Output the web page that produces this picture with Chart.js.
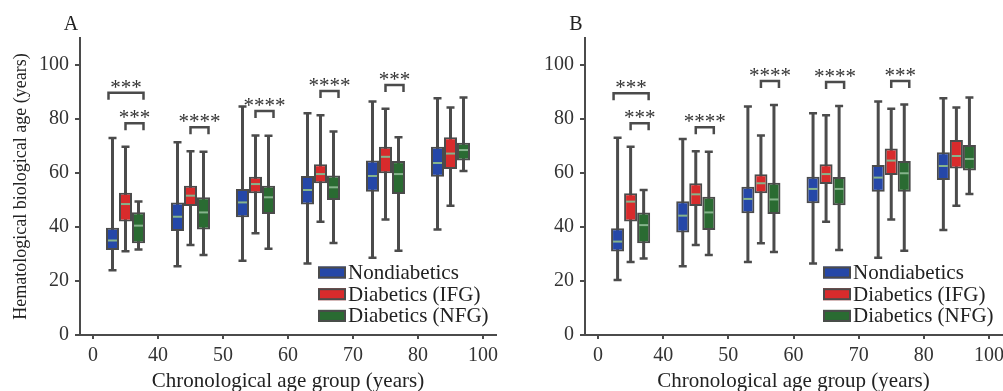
<!DOCTYPE html>
<html>
<head>
<meta charset="utf-8">
<script src="https://cdn.jsdelivr.net/npm/chart.js@4.4.1/dist/chart.umd.min.js"></script>
<style>
  body { margin: 0; background: #fff; }
  #wrap { position: relative; width: 1003px; height: 391px; overflow: hidden; }
  .panel { position: absolute; top: 0; height: 391px; }
  #panelA { left: 0; width: 500px; }
  #panelB { left: 500px; width: 503px; }
</style>
</head>
<body>
<div id="wrap">
  <div class="panel" id="panelA"><canvas id="chartA"></canvas></div>
  <div class="panel" id="panelB"><canvas id="chartB"></canvas></div>
</div>
<script>
// x axis: age group boundaries, boxes sit between the ticks
const xTickLabels = ['0', '40', '50', '60', '70', '80', '100'];
const groupCenters = [0.5, 1.5, 2.5, 3.5, 4.5, 5.5];
const seriesNames = ['Nondiabetics', 'Diabetics (IFG)', 'Diabetics (NFG)'];
const seriesColors = ['#2547a8', '#d82b2c', '#2a6b32'];

// [whisker low, Q1, median, Q3, whisker high] for each age group
const panelA_non = [[24, 31.5, 35, 39.7, 73], [25.5, 38.5, 43.8, 49.1, 71.4], [27.5, 43.6, 49.1, 54.1, 84.6],
                    [26.5, 48.3, 53.7, 58.9, 82.1], [28.6, 53.1, 58.9, 64.6, 86.5], [39.1, 58.6, 63.7, 69.7, 87.7]];
const panelA_ifg = [[31, 42, 48.5, 52.7, 69.7], [33.3, 47.8, 51.6, 55.3, 68.1], [37.7, 52.5, 55.9, 58.6, 73.9],
                    [41.9, 56.2, 59.6, 63.2, 81.4], [42.8, 59.9, 66, 69.7, 83.8], [47.9, 61.5, 67.2, 73.2, 84.3]];
const panelA_nfg = [[31.7, 34, 40.5, 45.5, 49.4], [29.6, 39.1, 45.4, 51, 67.9], [31.9, 44.8, 51, 55.3, 73.8],
                    [34.1, 50, 54.7, 59.1, 75.4], [31.2, 52.2, 59.6, 64.4, 73.2], [60.7, 64.6, 68.5, 71.2, 88]];

const panelB_non = [[20.4, 30.9, 34.6, 39.5, 73.1], [25.5, 38, 44.2, 49.5, 72.6], [27, 45.1, 50.4, 54.9, 84.6],
                    [26.5, 48.8, 54.1, 58.6, 82.1], [28.6, 53.1, 58.3, 63, 86.5], [38.9, 57.4, 62.6, 67.7, 87.7]];
const panelB_ifg = [[27, 42, 49.4, 52.5, 69.7], [33.3, 47.8, 52.1, 56.2, 68.1], [34, 52.5, 56.2, 59.5, 73.9],
                    [41.9, 55.9, 59.6, 63.2, 81.4], [42.8, 59.3, 64.6, 69.1, 83.8], [47.9, 61.7, 66.3, 72.2, 84.3]];
const panelB_nfg = [[28.3, 34, 40.7, 45.4, 53.7], [29.6, 38.9, 45.4, 51.2, 67.9], [30.7, 44.8, 50.2, 56.4, 85.2],
                    [31.5, 48.1, 54.1, 58.5, 84.8], [31.2, 53.1, 59.9, 64.4, 85.4], [52.2, 60.9, 65.2, 70.4, 88]];

// significance brackets: [age group, from series, to series, height, label]
const panelA_brackets = [[0, 0, 2, 89.7, '***'], [0, 1, 2, 78.4, '***'], [1, 1, 2, 76.9, '****'],
                         [2, 1, 2, 83, '****'], [3, 1, 2, 90.4, '****'], [4, 1, 2, 92.6, '***']];
const panelB_brackets = [[0, 0, 2, 89.5, '***'], [0, 1, 2, 78.4, '***'], [1, 1, 2, 76.9, '****'],
                         [2, 1, 2, 94.1, '****'], [3, 1, 2, 93.7, '****'], [4, 1, 2, 94.1, '***']];

const serif = "'Liberation Serif', 'Times New Roman', serif";
const ink = '#4b4b4b';

// whiskers, medians, brackets, legend and panel letter
const boxExtras = {
    id: 'boxExtras',
    beforeDatasetsDraw(chart) {
        const ctx = chart.ctx;
        const y = chart.scales.y;
        ctx.save();
        ctx.strokeStyle = ink;
        chart.data.datasets.forEach((ds, k) => {
            chart.getDatasetMeta(k).data.forEach((bar, i) => {
                const s = ds.stats[i];
                const lo = y.getPixelForValue(s[0]);
                const hi = y.getPixelForValue(s[4]);
                ctx.lineWidth = 3;
                ctx.beginPath();
                ctx.moveTo(bar.x, lo);
                ctx.lineTo(bar.x, hi);
                ctx.stroke();
                ctx.lineWidth = 2.5;
                ctx.beginPath();
                ctx.moveTo(bar.x - 4, lo); ctx.lineTo(bar.x + 4, lo);
                ctx.moveTo(bar.x - 4, hi); ctx.lineTo(bar.x + 4, hi);
                ctx.stroke();
            });
        });
        ctx.restore();
    },
    afterDatasetsDraw(chart, args, opts) {
        const ctx = chart.ctx;
        const y = chart.scales.y;
        const area = chart.chartArea;
        ctx.save();

        // median lines
        ctx.strokeStyle = '#86b48c';
        ctx.lineWidth = 2;
        chart.data.datasets.forEach((ds, k) => {
            chart.getDatasetMeta(k).data.forEach((bar, i) => {
                const m = y.getPixelForValue(ds.stats[i][2]);
                ctx.beginPath();
                ctx.moveTo(bar.x - bar.width / 2 + 2, m);
                ctx.lineTo(bar.x + bar.width / 2 - 2, m);
                ctx.stroke();
            });
        });

        // brackets with stars
        ctx.strokeStyle = ink;
        ctx.lineWidth = 2.5;
        ctx.fillStyle = '#333';
        ctx.font = '21px ' + serif;
        ctx.textAlign = 'center';
        ctx.textBaseline = 'alphabetic';
        opts.brackets.forEach(([g, a, b, h, label]) => {
            const barA = chart.getDatasetMeta(a).data[g];
            const barB = chart.getDatasetMeta(b).data[g];
            const x1 = barA.x - (a === 0 ? 4 : 0);
            const x2 = barB.x + 5;
            const top = y.getPixelForValue(h);
            ctx.beginPath();
            ctx.moveTo(x1, top + 7);
            ctx.lineTo(x1, top);
            ctx.lineTo(x2, top);
            ctx.lineTo(x2, top + 7);
            ctx.stroke();
            ctx.fillText(label, (x1 + x2) / 2, top + 1);
        });

        // legend in the lower right of the plot
        ctx.font = '21px ' + serif;
        ctx.textAlign = 'left';
        ctx.textBaseline = 'middle';
        chart.data.datasets.forEach((ds, k) => {
            const cy = area.bottom - 62.5 + k * 21.7;
            const bx = area.left + 238;
            ctx.fillStyle = ds.backgroundColor;
            ctx.fillRect(bx, cy - 6, 28, 12);
            ctx.lineWidth = 2;
            ctx.strokeStyle = ink;
            ctx.strokeRect(bx + 1, cy - 5, 26, 10);
            ctx.fillStyle = '#222';
            ctx.fillText(ds.label, bx + 30, cy + 1);
        });

        // panel letter
        ctx.font = '20px ' + serif;
        ctx.textAlign = 'center';
        ctx.textBaseline = 'alphabetic';
        ctx.fillText(opts.letter, area.left - 9, 30);
        ctx.restore();
    }
};

function makeChart(id, letter, stats, brackets, yAxisWidth, rightPad) {
    const datasets = stats.map((s, k) => ({
        label: seriesNames[k],
        data: groupCenters.map((x, i) => ({ x: x, y: [s[i][1], s[i][3]] })),
        stats: s,
        backgroundColor: seriesColors[k],
        borderColor: ink,
        borderWidth: 2,
        borderSkipped: false,
        categoryPercentage: 0.6,
        barPercentage: 1.0
    }));

    return new Chart(document.getElementById(id), {
        type: 'bar',
        data: { datasets: datasets },
        options: {
            responsive: true,
            maintainAspectRatio: false,
            animation: false,
            layout: { padding: { top: 38, right: rightPad, left: 0, bottom: 0 } },
            plugins: {
                legend: { display: false },
                tooltip: { enabled: false },
                boxExtras: { letter: letter, brackets: brackets }
            },
            scales: {
                x: {
                    type: 'linear',
                    min: -0.2,
                    max: 6.2,
                    offset: false,
                    afterBuildTicks: s => { s.ticks = xTickLabels.map((_, i) => ({ value: i })); },
                    afterFit: s => { s.height = 56; s.paddingLeft = 0; s.paddingRight = 0; },
                    ticks: {
                        callback: (v, i) => xTickLabels[i],
                        autoSkip: false,
                        maxRotation: 0,
                        padding: 5,
                        color: '#333',
                        font: { family: serif, size: 20 }
                    },
                    grid: { drawOnChartArea: false, offset: false, tickLength: 4, color: ink, lineWidth: 2 },
                    border: { color: ink, width: 2 },
                    title: {
                        display: true,
                        text: 'Chronological age group (years)',
                        color: '#222',
                        padding: 0,
                        font: { family: serif, size: 21, lineHeight: 0.9 }
                    }
                },
                y: {
                    min: 0,
                    max: 110,
                    stacked: false,
                    afterBuildTicks: s => { s.ticks = s.ticks.filter(t => t.value % 20 === 0); },
                    afterFit: s => { s.width = yAxisWidth; s.paddingTop = 0; s.paddingBottom = 0; },
                    ticks: {
                        stepSize: 20,
                        padding: 6,
                        color: '#333',
                        font: { family: serif, size: 20 }
                    },
                    grid: { drawOnChartArea: false, tickLength: 5, color: ink, lineWidth: 2 },
                    border: { color: ink, width: 2 },
                    title: {
                        display: letter === 'A',
                        text: 'Hematological biological age (years)',
                        color: '#222',
                        padding: { top: 10, bottom: 0 },
                        font: { family: serif, size: 18 }
                    }
                }
            }
        },
        plugins: [boxExtras]
    });
}

makeChart('chartA', 'A', [panelA_non, panelA_ifg, panelA_nfg], panelA_brackets, 80, 4);
makeChart('chartB', 'B', [panelB_non, panelB_ifg, panelB_nfg], panelB_brackets, 85, 1);
</script>
</body>
</html>
